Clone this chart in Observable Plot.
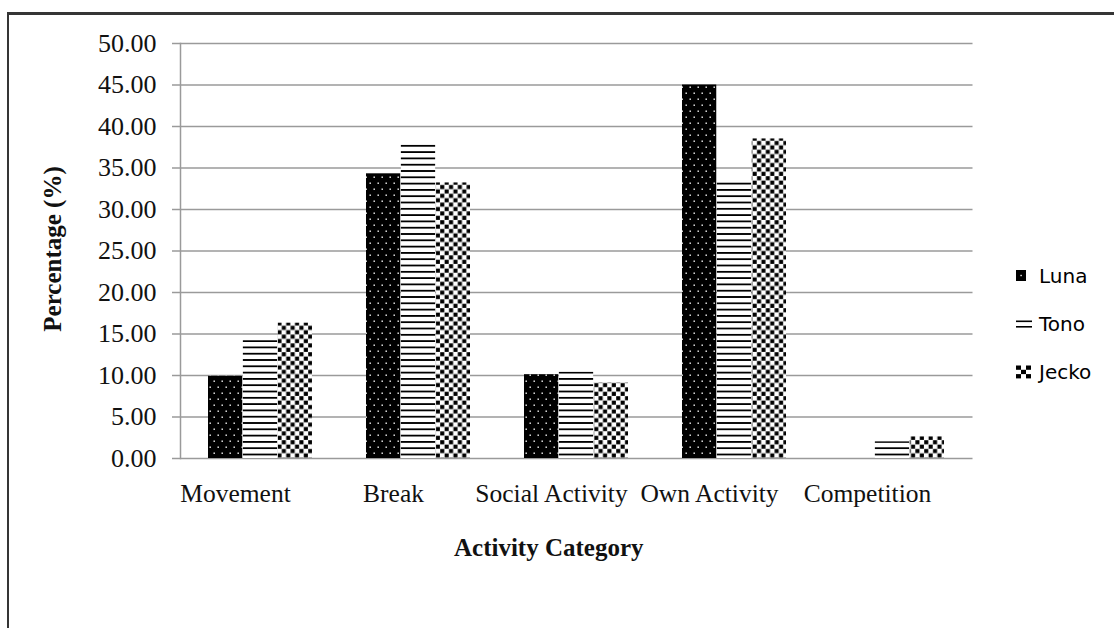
<!DOCTYPE html>
<html>
<head>
<meta charset="utf-8">
<script src="https://cdn.jsdelivr.net/npm/d3@7"></script>
<script src="https://cdn.jsdelivr.net/npm/@observablehq/plot@0.6"></script>
<style>
  html, body { margin: 0; padding: 0; background: #fff; }
  #wrap { position: relative; width: 1114px; height: 628px; overflow: hidden; background: #fff; }
  #chart { position: absolute; left: 0; top: 0; }
  #border { position: absolute; left: 7px; top: 12px; width: 1200px; height: 700px;
            border-top: 3px solid #353535; border-left: 2.5px solid #353535; pointer-events: none; }
  #legend { position: absolute; left: 1016px; top: 0; font-family: "DejaVu Sans", sans-serif;
            font-size: 20px; color: #000; }
  .item { position: absolute; left: 0; height: 24px; display: flex; align-items: center; white-space: nowrap; }
  .item svg { display: block; }
  .item span { position: absolute; left: 23px; line-height: 24px; }
</style>
</head>
<body>
<div id="wrap">
  <div id="chart"></div>
  <div id="legend"></div>
  <div id="border"></div>
</div>
<script>
// ---- data ----
const categories = ["Movement", "Break", "Social Activity", "Own Activity", "Competition"];
const series = ["Luna", "Tono", "Jecko"];
const luna  = [9.9, 34.3, 10.1, 45.0, 0.0];
const tono  = [14.2, 38.0, 10.4, 33.4, 2.0];
const jecko = [16.3, 33.2, 9.1, 38.5, 2.6];
const yTicks = [0, 5, 10, 15, 20, 25, 30, 35, 40, 45, 50];

const values = {Luna: luna, Tono: tono, Jecko: jecko};
const data = categories.flatMap((c, i) =>
  series.map(s => ({category: c, series: s, value: values[s][i]}))
);
const patternOf = {Luna: "url(#pLuna)", Tono: "url(#pTono)", Jecko: "url(#pJecko)"};

const gridColor = "#9a9a9a";
const serif = "'Liberation Serif', 'Times New Roman', serif";

const W = 1114, H = 628, ML = 180, MR = 141.5, MT = 43, MB = 170;
const xOptions = {domain: categories, paddingInner: 0.34, paddingOuter: 0.17};

// width of one category band, taken from Plot's own band scale, split among the series
const band = Plot.scale({x: {type: "band", ...xOptions, range: [ML, W - MR]}}).bandwidth;
const sub = band / series.length;

const barMarks = series.map((s, k) =>
  Plot.barY(data.filter(d => d.series === s), {
    x: "category", y: "value", fill: patternOf[s],
    insetLeft: k * sub, insetRight: (series.length - 1 - k) * sub
  })
);

const svg = Plot.plot({
  width: W,
  height: H,
  marginLeft: ML,
  marginRight: MR,
  marginTop: MT,
  marginBottom: MB,
  style: {fontFamily: serif, fontSize: "24px", color: "#111", background: "transparent"},
  x: {...xOptions, label: null},
  y: {domain: [0, 50], label: null},
  marks: [
    Plot.ruleY(yTicks, {stroke: gridColor, strokeWidth: 1.5}),
    Plot.frame({anchor: "left", stroke: gridColor, strokeWidth: 1.5}),
    ...barMarks,
    Plot.axisY({
      ticks: yTicks, tickFormat: d => d.toFixed(2), tickSize: 8, tickPadding: 16,
      fontSize: 26, stroke: gridColor, strokeWidth: 1.5, label: null
    }),
    Plot.axisX({
      anchor: "bottom", tickSize: 0, tickPadding: 25, fontSize: 25.5, dx: -25, label: null
    }),
    Plot.text(["Activity Category"], {
      frameAnchor: "bottom", dy: 89, dx: -28, fontWeight: "bold", fontSize: 25,
      lineAnchor: "middle"
    }),
    Plot.text(["Percentage (%)"], {
      frameAnchor: "left", dx: -128, dy: -2, rotate: -90, fontWeight: "bold", fontSize: 25,
      textAnchor: "middle", lineAnchor: "middle"
    })
  ]
});

// pattern definitions
const defs = document.createElementNS("http://www.w3.org/2000/svg", "defs");
defs.innerHTML = `
  <pattern id="pLuna" patternUnits="userSpaceOnUse" width="8" height="12">
    <rect width="8" height="12" fill="#000"/>
    <rect x="1.5" y="2.5" width="1.4" height="1.4" fill="#fff"/>
    <rect x="5.5" y="8.5" width="1.4" height="1.4" fill="#fff"/>
  </pattern>
  <pattern id="pTono" patternUnits="userSpaceOnUse" width="10" height="6.3">
    <rect width="10" height="6.3" fill="#fff"/>
    <rect y="0" width="10" height="1.8" fill="#000"/>
  </pattern>
  <pattern id="pJecko" patternUnits="userSpaceOnUse" width="8.8" height="8.8">
    <rect width="8.8" height="8.8" fill="#fff"/>
    <rect x="0.2" y="0.2" width="4.1" height="4.1" fill="#000"/>
    <rect x="4.6" y="4.6" width="4.1" height="4.1" fill="#000"/>
  </pattern>`;
svg.insertBefore(defs, svg.firstChild);
document.getElementById("chart").appendChild(svg);

// legend (HTML, beside the plot)
const swatches = {
  Luna: `<svg width="16" height="14"><rect x="0" y="1" width="10" height="11" fill="#000"/><rect x="4.4" y="5.8" width="1.4" height="1.4" fill="#fff"/></svg>`,
  Tono: `<svg width="16" height="14"><rect x="0" y="3.5" width="16" height="1.6" fill="#000"/><rect x="0" y="9" width="16" height="1.6" fill="#000"/></svg>`,
  Jecko: `<svg width="16" height="14"><rect x="0" y="0.5" width="15" height="13" fill="#fff"/>
          <rect x="0" y="0.5" width="5" height="4.3" fill="#000"/><rect x="10" y="0.5" width="5" height="4.3" fill="#000"/>
          <rect x="5" y="4.8" width="5" height="4.3" fill="#000"/>
          <rect x="0" y="9.1" width="5" height="4.3" fill="#000"/><rect x="10" y="9.1" width="5" height="4.3" fill="#000"/></svg>`
};
const legendCenters = {Luna: 276, Tono: 324, Jecko: 372};
const legend = document.getElementById("legend");
series.forEach(s => {
  const div = document.createElement("div");
  div.className = "item";
  div.style.top = (legendCenters[s] - 12) + "px";
  div.innerHTML = swatches[s] + `<span>${s}</span>`;
  legend.appendChild(div);
});
</script>
</body>
</html>
